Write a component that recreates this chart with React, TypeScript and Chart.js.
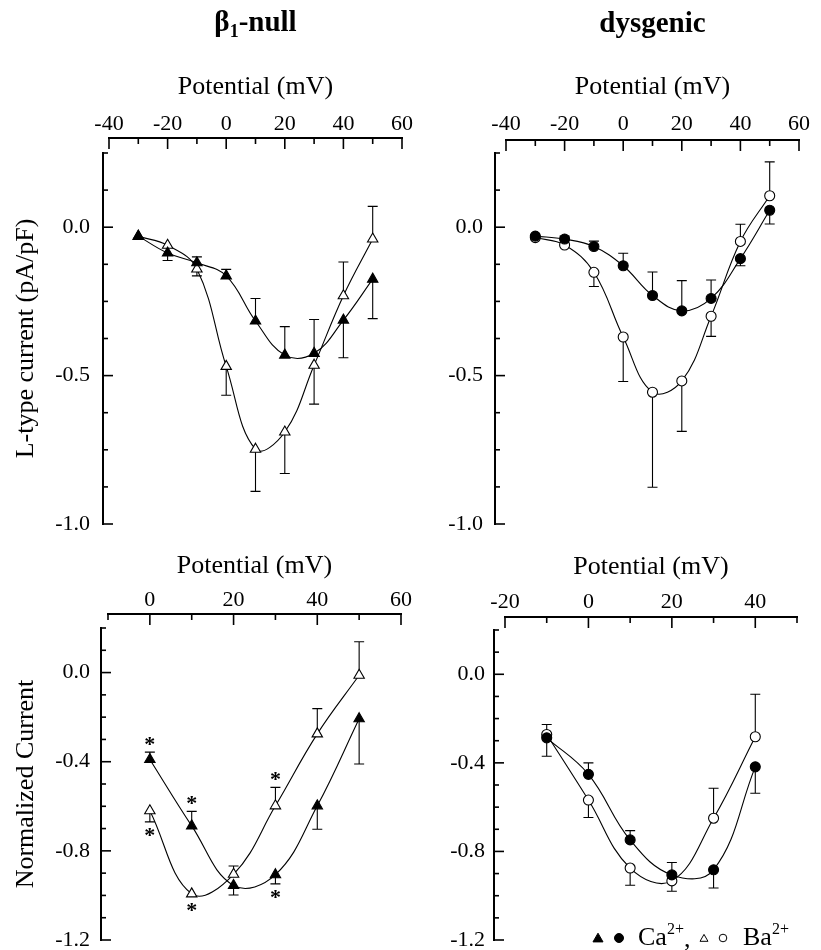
import React, { useEffect, useRef } from 'react';
import { Chart, registerables } from 'chart.js';

Chart.register(...registerables);

const SERIF = '"Liberation Serif", "Times New Roman", Times, serif';

// ---------------- Data ----------------
// Top row: current density (pA/pF)
const potentialsAbs = [-30, -20, -10, 0, 10, 20, 30, 40, 50];
const nullCaAbs = [-0.03, -0.087, -0.12, -0.164, -0.316, -0.431, -0.425, -0.313, -0.175];
const nullCaAbsErr = [0, -0.025, 0.02, 0.022, 0.076, 0.096, 0.114, -0.127, -0.133];
const nullBaAbs = [-0.031, -0.061, -0.141, -0.469, -0.748, -0.69, -0.465, -0.231, -0.04];
const nullBaAbsErr = [0, 0, -0.023, -0.097, -0.142, -0.14, -0.131, 0.114, 0.11];

const dysCaAbs = [-0.03, -0.04, -0.065, -0.13, -0.23, -0.282, -0.24, -0.106, 0.057];
const dysCaAbsErr = [0, 0.01, 0.018, 0.042, 0.079, 0.102, 0.062, -0.024, -0.046];
const dysBaAbs = [-0.035, -0.06, -0.152, -0.37, -0.556, -0.518, -0.3, -0.048, 0.106];
const dysBaAbsErr = [0, 0, -0.048, -0.15, -0.32, -0.17, -0.068, 0.058, 0.114];

// Bottom row: normalized current
const potentialsNullNorm = [0, 10, 20, 30, 40, 50];
const nullCaNorm = [-0.39, -0.688, -0.955, -0.907, -0.598, -0.207];
const nullCaNormErr = [0.033, 0.065, -0.043, -0.041, -0.105, -0.203];
const nullBaNorm = [-0.62, -0.993, -0.905, -0.598, -0.275, -0.012];
const nullBaNormErr = [-0.05, 0, 0.037, 0.083, 0.113, 0.15];
const nullCaStars = ['up', 'up', '', 'down', '', ''];
const nullBaStars = ['down', 'down', '', 'up', '', ''];

const potentialsDysNorm = [-10, 0, 10, 20, 30, 40];
const dysCaNorm = [-0.287, -0.452, -0.748, -0.906, -0.883, -0.418];
const dysCaNormErr = [-0.083, 0.052, 0.042, 0.056, -0.082, -0.119];
const dysBaNorm = [-0.272, -0.568, -0.875, -0.933, -0.65, -0.282];
const dysBaNormErr = [0.045, -0.079, -0.078, -0.047, 0.135, 0.192];

// Ticks
const xTicksAbs = [-40, -20, 0, 20, 40, 60];
const xMinorAbs = [-30, -10, 10, 30, 50];
const yTicksAbs = [0, -0.5, -1.0];
const yMinorAbs = [0.25, 0.125, -0.125, -0.25, -0.375, -0.625, -0.75, -0.875];
const xTicksNullNorm = [0, 20, 40, 60];
const xMinorNullNorm = [-10, 10, 30, 50];
const xTicksDysNorm = [-20, 0, 20, 40];
const xMinorDysNorm = [-10, 10, 30, 50];
const yTicksNorm = [0, -0.4, -0.8, -1.2];
const yMinorNorm = [0.2, 0.1, -0.1, -0.2, -0.3, -0.5, -0.6, -0.7, -0.9, -1.0, -1.1];

const xTitle = 'Potential (mV)';
const yTitleAbs = 'L-type current (pA/pF)';
const yTitleNorm = 'Normalized Current';

type PanelDef = {
  key: string;
  left: number; top: number; w: number; h: number;
  pad: { left: number; right: number; top: number; bottom: number };
  yWidth: number; xHeight: number; xGap: number; yGap: number;
  xLabelPad: number; xTitlePad: number; yLabelPad: number; yTitlePad: number;
  x: number[]; ca: number[]; caErr: number[]; ba: number[]; baErr: number[];
  caStars?: string[]; baStars?: string[];
  shape: 'triangle' | 'circle';
  xMin: number; xMax: number; xTicks: number[]; xMinor: number[];
  yMin: number; yMax: number; yTicks: number[]; yMinor: number[];
  yTitle?: string;
  title?: 'beta' | 'dys';
  legend?: boolean;
};

const panels: PanelDef[] = [
  {
    key: 'tl', left: 0, top: 0, w: 426, h: 545,
    pad: { left: 0, right: 24, top: 0, bottom: 21 },
    yWidth: 109, xHeight: 153, xGap: 15, yGap: 6,
    xLabelPad: 16, xTitlePad: 72, yLabelPad: 19, yTitlePad: 11,
    x: potentialsAbs, ca: nullCaAbs, caErr: nullCaAbsErr, ba: nullBaAbs, baErr: nullBaAbsErr,
    shape: 'triangle',
    xMin: -40, xMax: 60, xTicks: xTicksAbs, xMinor: xMinorAbs,
    yMin: -1.0, yMax: 0.25, yTicks: yTicksAbs, yMinor: yMinorAbs,
    yTitle: yTitleAbs, title: 'beta',
  },
  {
    key: 'tr', left: 410, top: 0, w: 411, h: 545,
    pad: { left: 0, right: 22, top: 0, bottom: 21 },
    yWidth: 96, xHeight: 153, xGap: 13, yGap: 11,
    xLabelPad: 16, xTitlePad: 72, yLabelPad: 23, yTitlePad: 0,
    x: potentialsAbs, ca: dysCaAbs, caErr: dysCaAbsErr, ba: dysBaAbs, baErr: dysBaAbsErr,
    shape: 'circle',
    xMin: -40, xMax: 60, xTicks: xTicksAbs, xMinor: xMinorAbs,
    yMin: -1.0, yMax: 0.25, yTicks: yTicksAbs, yMinor: yMinorAbs,
    title: 'dys',
  },
  {
    key: 'bl', left: 0, top: 545, w: 426, h: 405,
    pad: { left: 0, right: 25, top: 0, bottom: 10 },
    yWidth: 108, xHeight: 83, xGap: 14, yGap: 7,
    xLabelPad: 15, xTitlePad: 6, yLabelPad: 18, yTitlePad: 11,
    x: potentialsNullNorm, ca: nullCaNorm, caErr: nullCaNormErr, ba: nullBaNorm, baErr: nullBaNormErr,
    caStars: nullCaStars, baStars: nullBaStars,
    shape: 'triangle',
    xMin: -10, xMax: 60, xTicks: xTicksNullNorm, xMinor: xMinorNullNorm,
    yMin: -1.2, yMax: 0.2, yTicks: yTicksNorm, yMinor: yMinorNorm,
    yTitle: yTitleNorm,
  },
  {
    key: 'br', left: 410, top: 545, w: 411, h: 405,
    pad: { left: 0, right: 24, top: 0, bottom: 10 },
    yWidth: 95, xHeight: 85, xGap: 13, yGap: 11,
    xLabelPad: 15, xTitlePad: 7, yLabelPad: 20, yTitlePad: 0,
    x: potentialsDysNorm, ca: dysCaNorm, caErr: dysCaNormErr, ba: dysBaNorm, baErr: dysBaNormErr,
    shape: 'circle',
    xMin: -20, xMax: 50, xTicks: xTicksDysNorm, xMinor: xMinorDysNorm,
    yMin: -1.2, yMax: 0.2, yTicks: yTicksNorm, yMinor: yMinorNorm,
    legend: true,
  },
];

function drawMarker(ctx: CanvasRenderingContext2D, shape: string, x: number, y: number, r: number, filled: boolean) {
  ctx.beginPath();
  if (shape === 'triangle') {
    ctx.moveTo(x, y - r);
    ctx.lineTo(x + r * 0.866, y + r * 0.5);
    ctx.lineTo(x - r * 0.866, y + r * 0.5);
    ctx.closePath();
  } else {
    ctx.arc(x, y, r, 0, Math.PI * 2);
  }
  ctx.fillStyle = filled ? '#000' : '#fff';
  ctx.fill();
  ctx.lineWidth = 1;
  ctx.strokeStyle = '#000';
  ctx.stroke();
}

function buildConfig(d: PanelDef): any {
  const mk = (label: string, vals: number[], errs: number[], stars: string[] | undefined, filled: boolean) => ({
    label,
    data: d.x.map((x, i) => ({ x, y: vals[i] })),
    errs,
    stars,
    borderColor: '#000',
    borderWidth: 1.1,
    tension: 0.4,
    fill: false,
    pointStyle: d.shape,
    pointRadius: d.shape === 'triangle' ? 6 : 5,
    pointHoverRadius: d.shape === 'triangle' ? 6 : 5,
    pointBackgroundColor: filled ? '#000' : '#fff',
    pointBorderColor: '#000',
    pointBorderWidth: 1.1,
  });

  const decor = {
    id: 'decor_' + d.key,
    beforeDatasetsDraw(chart: any) {
      const { ctx, scales } = chart;
      const sx = scales.x, sy = scales.y;
      ctx.save();
      ctx.strokeStyle = '#000';
      ctx.lineWidth = 1.1;
      chart.data.datasets.forEach((ds: any) => {
        ds.data.forEach((pt: any, i: number) => {
          const e = ds.errs[i];
          if (!e) return;
          const px = sx.getPixelForValue(pt.x);
          const p0 = sy.getPixelForValue(pt.y);
          const p1 = sy.getPixelForValue(pt.y + e);
          ctx.beginPath();
          ctx.moveTo(px, p0);
          ctx.lineTo(px, p1);
          ctx.moveTo(px - 5, p1);
          ctx.lineTo(px + 5, p1);
          ctx.stroke();
        });
      });
      ctx.restore();
    },
    afterDatasetsDraw(chart: any) {
      const { ctx, scales } = chart;
      const sx = scales.x, sy = scales.y;
      ctx.save();
      ctx.fillStyle = '#000';
      ctx.font = `bold 22px ${SERIF}`;
      ctx.textAlign = 'center';
      ctx.textBaseline = 'alphabetic';
      const m = ctx.measureText('*');
      const a = m.actualBoundingBoxAscent, de = m.actualBoundingBoxDescent;
      chart.data.datasets.forEach((ds: any) => {
        if (!ds.stars) return;
        ds.data.forEach((pt: any, i: number) => {
          const s = ds.stars[i];
          if (!s) return;
          const e = ds.errs[i];
          const px = sx.getPixelForValue(pt.x);
          const pm = sy.getPixelForValue(pt.y);
          let cy: number;
          if (s === 'up') {
            cy = e > 0 ? sy.getPixelForValue(pt.y + e) - 11 : pm - 14;
          } else {
            cy = e < 0 ? sy.getPixelForValue(pt.y + e) + 11 : pm + 14;
          }
          ctx.fillText('*', px, cy + (a - de) / 2);
        });
      });
      ctx.restore();
    },
    afterDraw(chart: any) {
      const { ctx, chartArea: ca, scales } = chart;
      const sx = scales.x, sy = scales.y;
      ctx.save();
      ctx.strokeStyle = '#000';
      // x axis (top)
      const axY = ca.top - d.xGap;
      ctx.lineWidth = 2;
      ctx.beginPath();
      ctx.moveTo(ca.left - 1, axY);
      ctx.lineTo(ca.right + 1, axY);
      ctx.stroke();
      ctx.lineWidth = 1.6;
      const xt = (v: number, len: number) => {
        const px = sx.getPixelForValue(v);
        ctx.beginPath();
        ctx.moveTo(px, axY);
        ctx.lineTo(px, axY + len);
        ctx.stroke();
      };
      d.xTicks.forEach((v) => xt(v, 11));
      d.xMinor.forEach((v) => xt(v, 6));
      // y axis (left)
      const axX = ca.left - d.yGap;
      ctx.lineWidth = 2;
      ctx.beginPath();
      ctx.moveTo(axX, ca.top - 1);
      ctx.lineTo(axX, ca.bottom + 1);
      ctx.stroke();
      ctx.lineWidth = 1.6;
      const yt = (v: number, len: number) => {
        const py = sy.getPixelForValue(v);
        ctx.beginPath();
        ctx.moveTo(axX, py);
        ctx.lineTo(axX + len, py);
        ctx.stroke();
      };
      d.yTicks.forEach((v) => yt(v, 10));
      d.yMinor.forEach((v) => yt(v, 5));

      // panel titles
      ctx.fillStyle = '#000';
      ctx.textBaseline = 'alphabetic';
      ctx.textAlign = 'left';
      const cx = (ca.left + ca.right) / 2;
      if (d.title === 'beta') {
        const big = `bold 29px ${SERIF}`;
        const small = `bold 18px ${SERIF}`;
        ctx.font = big;
        const w1 = ctx.measureText('\u03B2').width;
        const w3 = ctx.measureText('-null').width;
        ctx.font = small;
        const w2 = ctx.measureText('1').width;
        const sx0 = cx - (w1 + w2 + w3) / 2;
        ctx.font = big;
        ctx.fillText('\u03B2', sx0, 31);
        ctx.fillText('-null', sx0 + w1 + w2, 31);
        ctx.font = small;
        ctx.fillText('1', sx0 + w1, 37);
      } else if (d.title === 'dys') {
        ctx.font = `bold 29px ${SERIF}`;
        ctx.textAlign = 'center';
        ctx.fillText('dysgenic', cx, 32);
      }

      // legend
      if (d.legend) {
        const by = 400; // baseline (relative to canvas)
        const my = 393;
        drawMarker(ctx, 'triangle', 188, my + 1, 5.8, true);
        drawMarker(ctx, 'circle', 209, my, 4.5, true);
        ctx.fillStyle = '#000';
        ctx.textAlign = 'left';
        ctx.font = `26px ${SERIF}`;
        ctx.fillText('Ca', 228, by);
        let w = ctx.measureText('Ca').width;
        ctx.font = `16px ${SERIF}`;
        ctx.fillText('2+', 228 + w, by - 11);
        const w2 = ctx.measureText('2+').width;
        ctx.font = `26px ${SERIF}`;
        ctx.fillText(',', 228 + w + w2, by + 2);
        drawMarker(ctx, 'triangle', 294, my + 1, 4.6, false);
        drawMarker(ctx, 'circle', 313, my, 3.8, false);
        ctx.fillStyle = '#000';
        ctx.font = `26px ${SERIF}`;
        ctx.fillText('Ba', 333, by);
        w = ctx.measureText('Ba').width;
        ctx.font = `16px ${SERIF}`;
        ctx.fillText('2+', 333 + w, by - 11);
      }
      ctx.restore();
    },
  };

  return {
    type: 'line',
    data: {
      datasets: [
        mk('Ca2+', d.ca, d.caErr, d.caStars, true),
        mk('Ba2+', d.ba, d.baErr, d.baStars, false),
      ],
    },
    options: {
      responsive: false,
      maintainAspectRatio: false,
      devicePixelRatio: 1,
      animation: false,
      events: [],
      layout: { padding: d.pad },
      plugins: { legend: { display: false }, tooltip: { enabled: false }, title: { display: false } },
      scales: {
        x: {
          type: 'linear',
          position: 'top',
          min: d.xMin,
          max: d.xMax,
          grid: { display: false, drawTicks: false },
          border: { display: false },
          ticks: {
            color: '#000',
            font: { family: SERIF, size: 22 },
            padding: d.xLabelPad,
            maxRotation: 0,
            autoSkip: false,
            callback: (v: any) => String(v),
          },
          title: {
            display: true,
            text: xTitle,
            color: '#000',
            font: { family: SERIF, size: 26 },
            padding: { top: d.xTitlePad, bottom: 0 },
          },
          afterBuildTicks: (s: any) => {
            s.ticks = d.xTicks.map((v) => ({ value: v }));
          },
          afterFit: (s: any) => {
            s.height = d.xHeight;
            s.paddingLeft = 0;
            s.paddingRight = 0;
          },
        },
        y: {
          type: 'linear',
          position: 'left',
          min: d.yMin,
          max: d.yMax,
          grid: { display: false, drawTicks: false },
          border: { display: false },
          ticks: {
            color: '#000',
            font: { family: SERIF, size: 22 },
            padding: d.yLabelPad,
            autoSkip: false,
            callback: (v: any) => Number(v).toFixed(1),
          },
          title: d.yTitle
            ? {
                display: true,
                text: d.yTitle,
                color: '#000',
                font: { family: SERIF, size: 26 },
                padding: { top: d.yTitlePad, bottom: 0 },
              }
            : { display: false },
          afterBuildTicks: (s: any) => {
            s.ticks = d.yTicks.map((v) => ({ value: v }));
          },
          afterFit: (s: any) => {
            s.width = d.yWidth;
            s.paddingTop = 0;
            s.paddingBottom = 0;
          },
        },
      },
    },
    plugins: [decor],
  };
}

function Panel({ def }: { def: PanelDef }) {
  const ref = useRef<HTMLCanvasElement>(null);
  useEffect(() => {
    if (!ref.current) return;
    const chart = new Chart(ref.current, buildConfig(def));
    return () => chart.destroy();
  }, [def]);
  return (
    <canvas
      ref={ref}
      width={def.w}
      height={def.h}
      style={{ position: 'absolute', left: def.left, top: def.top, width: def.w, height: def.h }}
    />
  );
}

export default function App() {
  return (
    <div style={{ position: 'absolute', left: 0, top: 0, width: 821, height: 950, background: '#fff' }}>
      {panels.map((p) => (
        <Panel key={p.key} def={p} />
      ))}
    </div>
  );
}
